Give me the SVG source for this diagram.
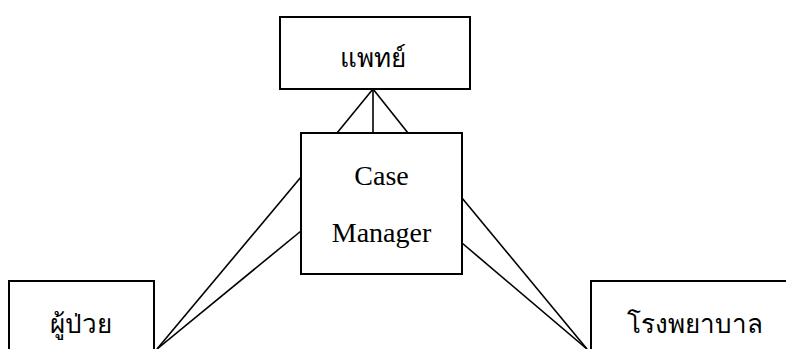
<svg xmlns="http://www.w3.org/2000/svg" width="786" height="349" viewBox="0 0 786 349">
  <style>
    .box { fill: #ffffff; stroke: #000000; stroke-width: 2; }
    .link { stroke: #000000; stroke-width: 1.6; fill: none; }
    .th { font-family: "Liberation Serif", "Noto Sans", serif; font-size: 26px; fill: #000; text-anchor: middle; }
    .en { font-family: "Liberation Serif", serif; font-size: 28px; fill: #000; text-anchor: middle; }
  </style>
  <rect width="786" height="349" fill="#ffffff"/>
  <g id="connectors">
    <line class="link" x1="373" y1="89" x2="337" y2="133"/>
    <line class="link" x1="373" y1="89" x2="373" y2="133"/>
    <line class="link" x1="373" y1="89" x2="408" y2="133"/>
    <line class="link" x1="157" y1="349" x2="301" y2="177"/>
    <line class="link" x1="157" y1="349" x2="301" y2="231"/>
    <line class="link" x1="587" y1="349" x2="462" y2="198"/>
    <line class="link" x1="587" y1="349" x2="462" y2="243"/>
  </g>
  <g id="doctor">
    <rect class="box" x="280" y="17" width="190" height="72"/>
    <text class="th" x="373" y="67">แพทย์</text>
  </g>
  <g id="case-manager">
    <rect class="box" x="301" y="133" width="161" height="141"/>
    <text class="en" x="381.5" y="185">Case</text>
    <text class="en" x="381.5" y="242">Manager</text>
  </g>
  <g id="patient">
    <rect class="box" x="9" y="281" width="145" height="80"/>
    <text class="th" x="81" y="333">ผู้ป่วย</text>
  </g>
  <g id="hospital">
    <rect class="box" x="591" y="281" width="210" height="80"/>
    <text class="th" x="695" y="333">โรงพยาบาล</text>
  </g>
</svg>
